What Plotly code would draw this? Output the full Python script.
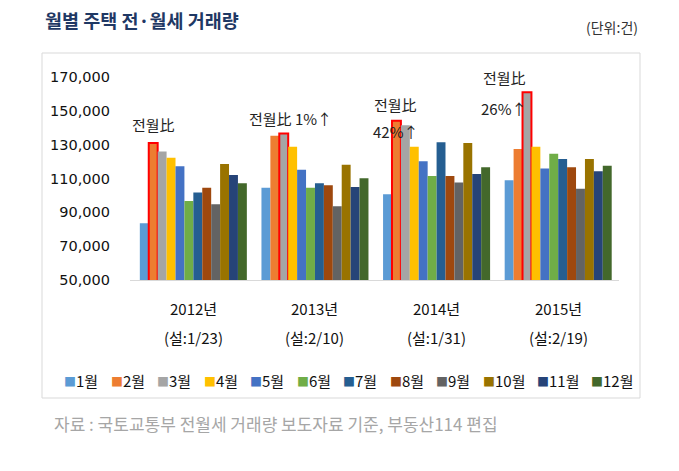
import plotly.graph_objects as go

# ---------------- data ----------------
years = ['2012년', '2013년', '2014년', '2015년']
seol = ['(설:1/23)', '(설:2/10)', '(설:1/31)', '(설:2/19)']
months = ['1월', '2월', '3월', '4월', '5월', '6월', '7월', '8월', '9월', '10월', '11월', '12월']
colors = ['#5B9BD5', '#ED7D31', '#A5A5A5', '#FFC000', '#4472C4', '#70AD47',
          '#255E91', '#9E480E', '#636363', '#997300', '#264478', '#43682B']

v_jan = [83500, 104600, 100700, 109000]
v_feb = [131000, 135200, 144100, 127500]
v_mar = [125900, 136600, 141500, 161000]
v_apr = [122200, 128700, 128700, 128700]
v_may = [117300, 115100, 120200, 115900]
v_jun = [96700, 104600, 111500, 124700]
v_jul = [101700, 107200, 131500, 121600]
v_aug = [104600, 106000, 111500, 116700]
v_sep = [94800, 93600, 107600, 104000]
v_oct = [118600, 118200, 131000, 121600]
v_nov = [112100, 105000, 112700, 114300]
v_dec = [107200, 110200, 116700, 117600]
series = [v_jan, v_feb, v_mar, v_apr, v_may, v_jun, v_jul, v_aug, v_sep, v_oct, v_nov, v_dec]

# highlighted bar per year (month index)
hl_month = [1, 2, 1, 2]
y_ticks = [50000, 70000, 90000, 110000, 130000, 150000, 170000]

title = '월별 주택 전·월세 거래량'
unit = '(단위:건)'
source = '자료 : 국토교통부 전월세 거래량 보도자료 기준, 부동산114 편집'

# ---------------- layout geometry ----------------
W, H = 679, 471
L, R, T, B = 130, 60, 77, 191
PW, PH = W - L - R, H - T - B
BARGAP = 0.12
cat_w = PW / len(years)
bar_w = cat_w * (1 - BARGAP) / len(months)


def px(x):
    return (x - L) / PW


def py(y):
    return (H - B - y) / PH


def bar_off(i):
    return (i - len(months) / 2 + 0.5) * bar_w


fig = go.Figure()
for mi, (m, c, vals) in enumerate(zip(months, colors, series)):
    lw = [2 if hl_month[yi] == mi else 0 for yi in range(len(years))]
    fig.add_trace(go.Bar(
        x=years, y=vals, name=m,
        marker=dict(color=c, line=dict(color='#FF0000', width=lw)),
    ))

ann = []
KFONT = 'Noto Sans CJK KR'

# callouts (text, left offset from bar centre, vertical offset from bar top)
callouts = [
    (0, [('전월比', -23, 18)]),
    (1, [('전월比 1%↑', -37, 15)]),
    (2, [('전월比', -24, 16), ('42%↑', -25, -11)]),
    (3, [('전월比', -46, 15), ('26%↑', -48, -16)]),
]
for yi, lines in callouts:
    mi = hl_month[yi]
    for txt, dx, dy in lines:
        ann.append(dict(xref='x', yref='y', x=years[yi], y=series[mi][yi],
                        xshift=bar_off(mi) + dx, yshift=dy, text=txt,
                        showarrow=False, xanchor='left', yanchor='middle',
                        font=dict(family=KFONT, size=15, color='#222222')))

# category labels
for yr, s in zip(years, seol):
    ann.append(dict(xref='x', yref='paper', x=yr, y=py(308), text=yr, showarrow=False,
                    xanchor='center', yanchor='middle',
                    font=dict(family=KFONT, size=15, color='#111111')))
    ann.append(dict(xref='x', yref='paper', x=yr, y=py(337), text=s, showarrow=False,
                    xanchor='center', yanchor='middle',
                    font=dict(family=KFONT, size=15, color='#111111')))

# legend (manual, single row)
lx = 62
for m, c in zip(months, colors):
    ann.append(dict(xref='paper', yref='paper', x=px(lx), y=py(380),
                    text=f'<span style="color:{c};font-size:12px">■</span>{m}',
                    showarrow=False, xanchor='left', yanchor='middle',
                    font=dict(family=KFONT, size=15, color='#111111')))
    lx += 9 + 4 + 7.5 * (len(m) - 1) + 15 + 11

# header / footer texts
ann.append(dict(xref='paper', yref='paper', x=px(640), y=py(27), text=unit,
                showarrow=False, xanchor='right', yanchor='middle',
                font=dict(family=KFONT, size=14, color='#333333')))
ann.append(dict(xref='paper', yref='paper', x=px(52), y=py(423), text=source,
                showarrow=False, xanchor='left', yanchor='middle',
                font=dict(family=KFONT, size=17, color='#A6A6A6')))

fig.update_layout(
    width=W, height=H,
    margin=dict(l=L, r=R, t=T, b=B, autoexpand=False),
    paper_bgcolor='white', plot_bgcolor='white',
    barmode='group', bargap=BARGAP, bargroupgap=0,
    showlegend=False,
    title=dict(text=f'<b>{title}</b>', x=45 / W, y=1 - 22 / H, xref='container',
               yref='container', xanchor='left', yanchor='middle',
               font=dict(family=KFONT, size=18.5, color='#1F3864')),
    annotations=ann,
    shapes=[dict(type='rect', xref='paper', yref='paper', x0=px(42), x1=px(640),
                 y0=py(398), y1=py(53), line=dict(color='#D9D9D9', width=1),
                 layer='below')],
    xaxis=dict(showticklabels=False, showgrid=False, zeroline=False,
               showline=True, linecolor='#D9D9D9', linewidth=1, ticks=''),
    yaxis=dict(range=[50000, 170000], tickvals=y_ticks, tickformat=',',
               showgrid=False, zeroline=False, showline=False, ticks='',
               ticklabelstandoff=19,
               tickfont=dict(family='DejaVu Sans', size=14.5, color='#111111')),
)

fig.write_html('out.html', config={'displayModeBar': False},
               post_script="document.body.style.margin='0';")
